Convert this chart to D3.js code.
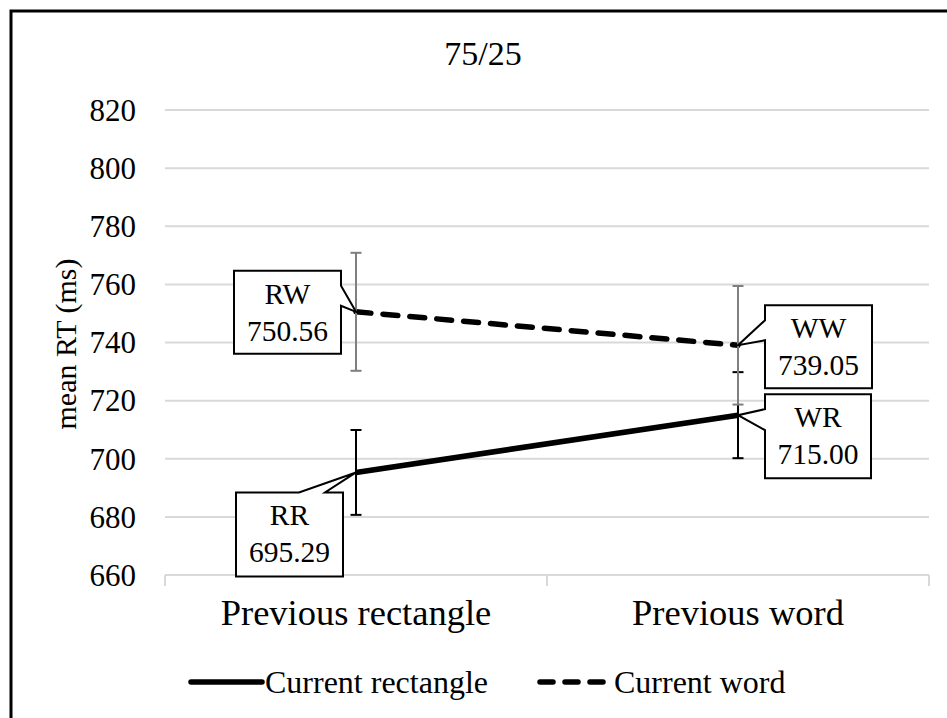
<!DOCTYPE html>
<html><head><meta charset="utf-8">
<script src="https://cdn.jsdelivr.net/npm/d3@7/dist/d3.min.js"></script>
<style>
html,body{margin:0;padding:0;background:#fff;}
</style></head>
<body>
<svg id="chart" width="947" height="718"></svg>
<script>
const title = "75/25";
const categories = ["Previous rectangle", "Previous word"];
const seriesNames = ["Current rectangle", "Current word"];
const currentRectangle = [695.29, 715.00];
const currentWord = [750.56, 739.05];
const errRectangle = [14.6, 14.8];
const errWord = [20.3, 20.4];
const labelsRectangle = ["RR", "WR"];
const labelsWord = ["RW", "WW"];
const yTicks = [660, 680, 700, 720, 740, 760, 780, 800, 820];
const yTitle = "mean RT (ms)";

const FONT = "Liberation Serif, Times New Roman, serif";
const svg = d3.select("#chart");
const txt = (sel) => sel.append("text").attr("font-family", FONT).attr("fill", "#000");

// outer frame
svg.append("rect").attr("x", 11).attr("y", 11).attr("width", 960).attr("height", 740)
  .attr("fill", "none").attr("stroke", "#000").attr("stroke-width", 3);

const x = d3.scaleBand().domain(categories).range([165, 929]);
const y = d3.scaleLinear().domain([660, 820]).range([575, 110]);
const cx = c => x(c) + x.bandwidth() / 2;

// title
txt(svg).attr("x", 483).attr("y", 65).attr("text-anchor", "middle")
  .attr("font-size", 34).text(title);

// gridlines
svg.append("g").selectAll("line").data(yTicks.filter(v => v !== 660)).join("line")
  .attr("x1", 165).attr("x2", 929).attr("y1", d => y(d)).attr("y2", d => y(d))
  .attr("stroke", "#d9d9d9").attr("stroke-width", 2);

// y labels
svg.append("g").selectAll("text").data(yTicks).join("text")
  .attr("font-family", FONT)
  .attr("x", 136).attr("y", d => y(d)).attr("dy", "0.35em")
  .attr("text-anchor", "end").attr("font-size", 31).attr("fill", "#000").text(d => d);

// y title
txt(svg).attr("transform", "translate(76,344) rotate(-90)")
  .attr("text-anchor", "middle").attr("font-size", 30).text(yTitle);

// x axis
const xAxis = d3.axisBottom(x).tickSize(0).tickPadding(30);
const gx = svg.append("g").attr("transform", `translate(0,${y(660)})`).call(xAxis)
  .attr("font-family", FONT);
gx.select(".domain").remove();
gx.selectAll("text").attr("font-family", FONT)
  .attr("font-size", 36.5).attr("fill", "#000").attr("dy", "0.55em");
svg.append("line").attr("x1", 165).attr("x2", 929).attr("y1", y(660)).attr("y2", y(660))
  .attr("stroke", "#d9d9d9").attr("stroke-width", 2);
const bounds = [x(categories[0]), x(categories[1]), x(categories[1]) + x.bandwidth()];
svg.append("g").selectAll("line").data(bounds).join("line")
  .attr("x1", d => d).attr("x2", d => d).attr("y1", y(660)).attr("y2", y(660) + 11)
  .attr("stroke", "#d9d9d9").attr("stroke-width", 2);

const line = d3.line().x((d, i) => cx(categories[i])).y(d => y(d));

// error bars
function errBars(vals, errs, color) {
  const g = svg.append("g");
  vals.forEach((v, i) => {
    const px = cx(categories[i]);
    g.append("line").attr("x1", px).attr("x2", px).attr("y1", y(v - errs[i])).attr("y2", y(v + errs[i]))
      .attr("stroke", color).attr("stroke-width", 2);
    [v - errs[i], v + errs[i]].forEach(e => {
      g.append("line").attr("x1", px - 5.5).attr("x2", px + 5.5).attr("y1", y(e)).attr("y2", y(e))
        .attr("stroke", color).attr("stroke-width", 2);
    });
  });
}

// series lines
svg.append("path").datum(currentRectangle).attr("d", line)
  .attr("fill", "none").attr("stroke", "#000").attr("stroke-width", 5.5);
errBars(currentRectangle, errRectangle, "#000");
svg.append("path").datum(currentWord).attr("d", line)
  .attr("fill", "none").attr("stroke", "#000").attr("stroke-width", 5.5)
  .attr("stroke-dasharray", "15,12").attr("stroke-linecap", "round");
errBars(currentWord, errWord, "#7f7f7f");

// callouts: box relative to point, wedge base on a side
function callout(px, py, bx0, bx1, by0, by1, side, w0, w1, name, val) {
  const L = px + bx0, R = px + bx1, T = py + by0, B = py + by1;
  let pts;
  if (side === "right") pts = [[L,T],[R,T],[R,py+w0],[px,py],[R,py+w1],[R,B],[L,B]];
  else if (side === "left") pts = [[L,T],[R,T],[R,B],[L,B],[L,py+w1],[px,py],[L,py+w0]];
  else pts = [[L,T],[px+w0,T],[px,py],[px+w1,T],[R,T],[R,B],[L,B]];
  svg.append("path").attr("d", "M" + pts.map(p => p.join(",")).join("L") + "Z")
    .attr("fill", "#fff").attr("stroke", "#000").attr("stroke-width", 2).attr("stroke-linejoin", "miter");
  const mx = (L + R) / 2;
  txt(svg).attr("x", mx).attr("y", T + 33).attr("text-anchor", "middle")
    .attr("font-size", 29.5).text(name);
  txt(svg).attr("x", mx).attr("y", T + 70).attr("text-anchor", "middle")
    .attr("font-size", 29.5).text(val.toFixed(2));
}
callout(cx(categories[0]), y(currentWord[0]), -122, -15, -41, 42, "right", -26, -6, labelsWord[0], currentWord[0]);
callout(cx(categories[1]), y(currentWord[1]), 27, 134, -40, 43, "left", -25, -5, labelsWord[1], currentWord[1]);
callout(cx(categories[1]), y(currentRectangle[1]), 27, 133, -21, 63, "left", -6, 15, labelsRectangle[1], currentRectangle[1]);
callout(cx(categories[0]), y(currentRectangle[0]), -120, -13, 20, 104, "top", -57, -31, labelsRectangle[0], currentRectangle[0]);

// legend
const lg = svg.append("g");
lg.append("line").attr("x1", 191).attr("x2", 262).attr("y1", 682).attr("y2", 682)
  .attr("stroke", "#000").attr("stroke-width", 5.5).attr("stroke-linecap", "round");
txt(lg).attr("x", 265).attr("y", 682).attr("dy", "0.35em").attr("font-size", 32).text(seriesNames[0]);
lg.append("line").attr("x1", 540).attr("x2", 610).attr("y1", 682).attr("y2", 682)
  .attr("stroke", "#000").attr("stroke-width", 5.5).attr("stroke-linecap", "round")
  .attr("stroke-dasharray", "13,12");
txt(lg).attr("x", 614).attr("y", 682).attr("dy", "0.35em").attr("font-size", 32).text(seriesNames[1]);
</script>
</body></html>
